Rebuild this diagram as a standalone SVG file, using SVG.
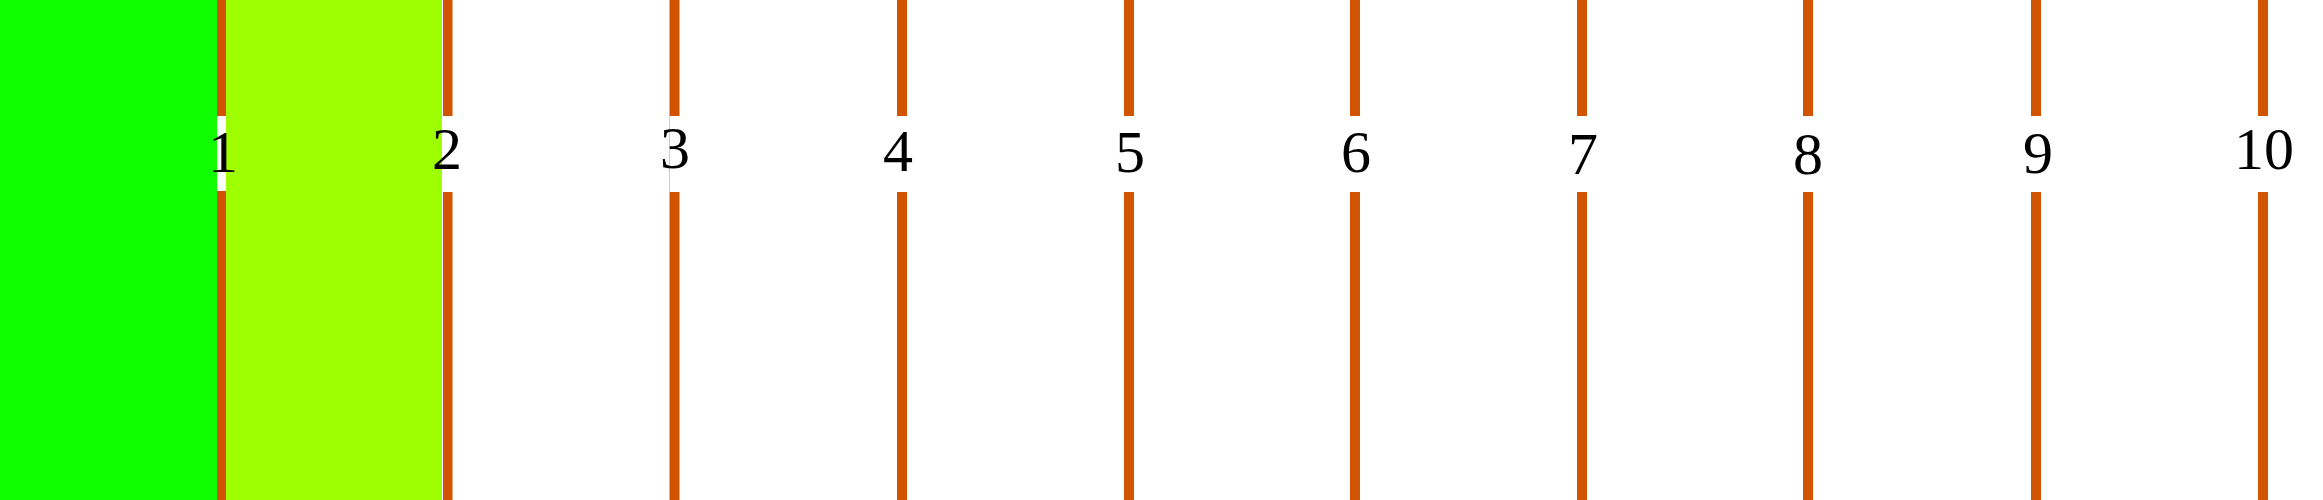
<svg xmlns="http://www.w3.org/2000/svg" width="2323" height="500" viewBox="0 0 2323 500">
<style>
.ln{fill:#D35400}
.lb{font-family:"Liberation Serif","Times New Roman",serif;fill:#000;text-anchor:middle;font-size:60px}
</style>
<rect x="0" y="0" width="2323" height="500" fill="#fff"/>
<g id="region-1"><rect x="0" y="0" width="217" height="500" fill="#10FF00"/></g>
<g id="region-2"><rect x="226" y="0" width="216" height="500" fill="#9EFF00"/></g>
<g id="connectors">
<rect x="669" y="116" width="1" height="76" fill="#D4F000"/>
</g>
<g id="line-1"><rect class="ln" x="217" y="0" width="9" height="116"/><rect class="ln" x="217" y="191" width="9" height="309"/><rect x="217" y="116" width="9" height="75" fill="#fff"/><text class="lb" x="223" y="172">1</text></g>
<g id="line-2"><rect class="ln" x="443" y="0" width="9.5" height="116"/><rect class="ln" x="443" y="192" width="9.5" height="308"/><text class="lb" x="447" y="169">2</text></g>
<g id="line-3"><rect class="ln" x="669.5" y="0" width="10" height="116"/><rect class="ln" x="669.5" y="192" width="10" height="308"/><text class="lb" x="675" y="168">3</text></g>
<g id="line-4"><rect class="ln" x="897" y="0" width="10" height="116"/><rect class="ln" x="897" y="192" width="10" height="308"/><text class="lb" x="898" y="171">4</text></g>
<g id="line-5"><rect class="ln" x="1124" y="0" width="10" height="116"/><rect class="ln" x="1124" y="192" width="10" height="308"/><text class="lb" x="1130" y="172">5</text></g>
<g id="line-6"><rect class="ln" x="1350" y="0" width="10" height="116"/><rect class="ln" x="1350" y="192" width="10" height="308"/><text class="lb" x="1356" y="172">6</text></g>
<g id="line-7"><rect class="ln" x="1577" y="0" width="10" height="116"/><rect class="ln" x="1577" y="192" width="10" height="308"/><text class="lb" x="1583" y="174">7</text></g>
<g id="line-8"><rect class="ln" x="1803" y="0" width="10" height="116"/><rect class="ln" x="1803" y="192" width="10" height="308"/><text class="lb" x="1808" y="174">8</text></g>
<g id="line-9"><rect class="ln" x="2031" y="0" width="10" height="116"/><rect class="ln" x="2031" y="192" width="10" height="308"/><text class="lb" x="2038" y="173">9</text></g>
<g id="line-10"><rect class="ln" x="2258" y="0" width="10" height="116"/><rect class="ln" x="2258" y="192" width="10" height="308"/><text class="lb" x="2264" y="169">10</text></g>
</svg>
